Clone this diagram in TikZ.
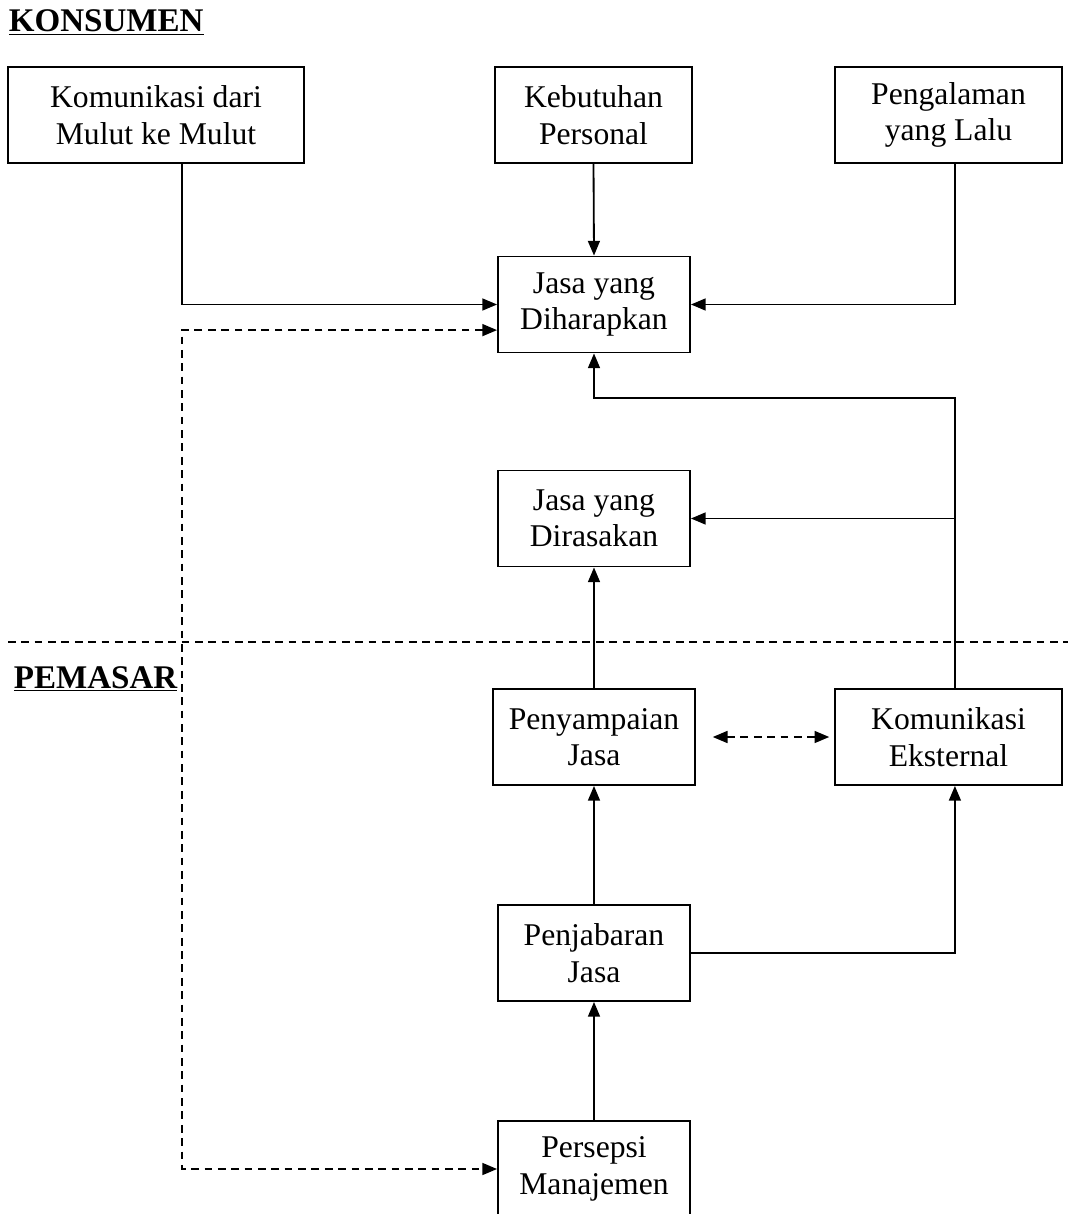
\documentclass[tikz,border=0pt]{standalone}
\usepackage{fontspec}
\setmainfont{Liberation Serif}
\usetikzlibrary{arrows.meta}

\begin{document}
\begin{tikzpicture}[
    x=0.025cm, y=-0.025cm,
    line width=1.3pt,
    >={Triangle[length=10.5pt,width=8.5pt]},
  	kotak/.style = {shape=rectangle, draw, align=center,
    minimum height=2.4cm, inner sep=0pt,
    font=\fontsize{22.5}{26}\selectfont},
    putus/.style={dash pattern=on 5.5pt off 4pt},
	judul/.style={anchor=base west, inner sep=0pt,
    font=\fontsize{23.5}{24}\selectfont\bfseries},
    ]
  \useasboundingbox (0,0) rectangle (1068,1214);

  \node[judul] (konsumen) at (8,32) {\underline{KONSUMEN}};
  \node[judul] (pemasar) at (13,688) {\underline{PEMASAR}};

  \node[kotak, minimum width=7.4cm] (mulut) at (156,115) {Komunikasi dari\\Mulut ke Mulut};
  \node[kotak, minimum width=4.925cm] (personal) at (593.5,115) {Kebutuhan\\Personal};
  \node[kotak, minimum width=5.675cm] (lalu) at (948.5,115) {Pengalaman\\yang Lalu};
  \node[kotak, minimum width=4.8cm] (harap) at (594,304.5) {Jasa yang\\Diharapkan};
  \node[kotak, minimum width=4.8cm] (rasa) at (594,518.5) {Jasa yang\\Dirasakan};
  \node[kotak, minimum width=5.05cm] (sampai) at (594,737) {Penyampaian\\Jasa};
  \node[kotak, minimum width=5.675cm] (eksternal) at (948.5,737) {Komunikasi\\Eksternal};
  \node[kotak, minimum width=4.8cm] (jabar) at (594,953) {Penjabaran\\Jasa};
  \node[kotak, minimum width=4.8cm] (persepsi) at (594,1169) {Persepsi\\Manajemen};

  \coordinate (ekstop) at ([xshift=0.16cm]eksternal.north);
  \coordinate (eksbawah) at ([xshift=0.16cm]eksternal.south);
  \coordinate (belok) at (594,398);
  \coordinate (kiri) at (182,700);

  \draw[->] ([xshift=0.65cm]mulut.south) |- (harap.west);
  \draw[->] (personal.south) -- (harap.north);
  \draw[->] ([xshift=0.16cm]lalu.south) |- (harap.east);
  \draw[->] (ekstop) |- (belok) -- (harap.south);
  \draw[->] (rasa.east -| ekstop) -- (rasa.east);
  \draw[->] (sampai.north) -- (rasa.south);
  \draw[putus, <->, shorten <=0.42cm, shorten >=0.12cm] (sampai.east) -- (eksternal.west);
  \draw[->] (jabar.north) -- (sampai.south);
  \draw[->] (jabar.east) -| (eksbawah);
  \draw[->] (persepsi.north) -- (jabar.south);
  \draw[putus, <->] ([yshift=-0.64cm]harap.west) -| (kiri) |- (persepsi.west);

  \draw[putus] (8,642) -- (1068,642);
\end{tikzpicture}
\end{document}
